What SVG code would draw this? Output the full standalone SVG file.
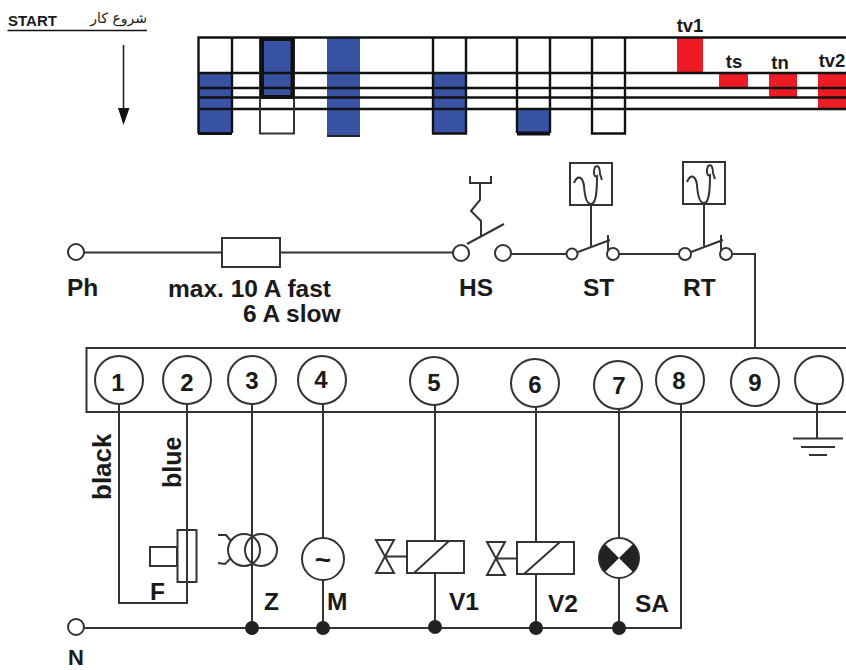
<svg xmlns="http://www.w3.org/2000/svg" width="846" height="670" viewBox="0 0 846 670">
<style>
text{font-family:"Liberation Sans",Arial,sans-serif;font-weight:bold;fill:#1a1a1a}
.l{font-size:24.500px}
.n{font-size:24px;text-anchor:middle}
.w{fill:none;stroke:#333;stroke-width:2}
.s{fill:#fff;stroke:#333;stroke-width:2}
.t{fill:none;stroke:#111;stroke-width:2.400}
.b{fill:#3953a4}
.r{fill:#ed1c24}
.d{fill:#222}
</style>
<rect width="846" height="670" fill="#fff"/>
<g id="header">
<text x="8" y="26" style="font-size:15px">START</text>
<text x="147" y="23" direction="rtl" text-anchor="start" style="font-family:'DejaVu Sans',sans-serif;font-weight:normal;font-size:14px">شروع کار</text>
<path d="M7.500 30.500H147" stroke="#111" stroke-width="1.600"/>
<path d="M123.500 45V110" stroke="#222" stroke-width="1.600"/>
<path d="M118 108H129.500L123.500 125Z" fill="#111"/>
</g>
<g id="timing">
<rect class="b" x="199" y="73" width="33" height="60"/>
<rect class="b" x="264" y="39" width="27" height="58"/>
<rect class="b" x="327" y="38" width="33" height="98"/>
<rect class="b" x="433" y="73" width="33" height="60"/>
<rect class="b" x="517" y="110" width="33" height="24"/>
<rect class="r" x="677" y="38" width="26" height="34"/>
<rect class="r" x="719" y="74" width="29" height="14"/>
<rect class="r" x="769" y="74" width="28" height="23"/>
<rect class="r" x="818" y="74" width="28" height="34"/>
<path class="t" d="M198.500 133.500V37.500H846M198 73H846M198 88H846M198 97.500H846M198 109H846"/>
<path class="t" d="M232 37.500V133M433 37.500V133.500H466V37.500M517 37.500V133M550 37.500V133M592 37.500V133.500H625V37.500"/>
<path d="M198 133.500H232" stroke="#111" stroke-width="3"/>
<path d="M517 133.500H550" stroke="#111" stroke-width="4"/>
<path d="M327 136H360" stroke="#222" stroke-width="2"/>
<path d="M260 37.500V133.500H294V37.500" class="w"/>
<path d="M262 39H292.500V97H262Z" fill="none" stroke="#111" stroke-width="4"/>
<text x="690" y="32" class="n" style="font-size:18.500px">tv1</text>
<text x="734" y="68" class="n" style="font-size:18.500px">ts</text>
<text x="780" y="69" class="n" style="font-size:18.500px">tn</text>
<text x="832" y="67" class="n" style="font-size:18.500px">tv2</text>
</g>
<g id="connectors">
<path class="w" d="M84 252.500H222M280 252.500H453M511 254H566M618 254H679M732 254H755V348"/>
<path class="w" d="M119 404V603H187V404M252 404V628M323 404V538M323 580V628M435 404V541M435 573V628M536 406V542M536 574V628M619 408V538M619 578V628M681 404V628H84M817 404V438"/>
<circle class="d" cx="252" cy="628" r="7"/>
<circle class="d" cx="323" cy="628" r="7"/>
<circle class="d" cx="435" cy="627" r="7"/>
<circle class="d" cx="536" cy="628" r="7"/>
<circle class="d" cx="619" cy="628" r="7"/>
</g>
<g id="Ph"><circle class="s" cx="76" cy="252" r="8"/><text x="67" y="296" class="l">Ph</text></g>
<g id="fuse"><rect class="s" x="222" y="238" width="58" height="29"/>
<text x="168" y="297" class="l">max. 10 A fast</text>
<text x="243" y="322" class="l">6 A slow</text></g>
<g id="HS">
<circle class="s" cx="461" cy="253" r="8"/><circle class="s" cx="503" cy="253" r="8"/>
<path class="w" d="M467 244L504 224M481 237V221L471 211L480 200V183M470 176V183H491V176"/>
<text x="459" y="296" class="l">HS</text>
</g>
<g id="ST">
<rect class="s" x="570" y="163" width="42" height="42"/>
<path class="w" d="M574 183C578 173 583 178 584 186C585 201 588 204 591 204C596 204 597 192 597 176C594 178 593 172 595 167C599 164 600 170 600 174L602 180"/>
<path class="w" d="M591 205V246M578 252L610 240M608 235V250"/>
<circle class="s" cx="572" cy="254" r="5.500"/><circle class="s" cx="613" cy="254" r="6"/>
<text x="583" y="296" class="l">ST</text>
</g>
<g id="RT">
<rect class="s" x="683" y="162" width="42" height="42"/>
<path class="w" d="M687 182C691 172 696 177 697 185C698 200 701 203 704 203C709 203 710 191 710 175C707 177 706 171 708 166C712 163 713 169 713 173L715 179"/>
<path class="w" d="M704 204V246M691 252L723 240M721 235V250"/>
<circle class="s" cx="685" cy="254" r="6"/><circle class="s" cx="726" cy="254" r="6"/>
<text x="683" y="296" class="l">RT</text>
</g>
<g id="strip"><path class="w" d="M846 348H86.500V412H846"/></g>
<g id="t1"><circle class="s" cx="119" cy="380" r="24"/><text x="118" y="391" class="n">1</text></g>
<g id="t2"><circle class="s" cx="187" cy="380" r="24"/><text x="187" y="391" class="n">2</text></g>
<g id="t3"><circle class="s" cx="252" cy="380" r="24"/><text x="252" y="389" class="n">3</text></g>
<g id="t4"><circle class="s" cx="322" cy="380" r="24"/><text x="321" y="388" class="n">4</text></g>
<g id="t5"><circle class="s" cx="434" cy="381" r="24"/><text x="434" y="391" class="n">5</text></g>
<g id="t6"><circle class="s" cx="535" cy="383" r="24"/><text x="535" y="393" class="n">6</text></g>
<g id="t7"><circle class="s" cx="618" cy="385" r="24"/><text x="619" y="394" class="n">7</text></g>
<g id="t8"><circle class="s" cx="680" cy="380" r="24"/><text x="679" y="389" class="n">8</text></g>
<g id="t9"><circle class="s" cx="755" cy="382" r="24"/><text x="755" y="391" class="n">9</text></g>
<g id="earth"><circle class="s" cx="819" cy="380" r="24"/>
<path class="w" d="M793 438.500H843M801 447H835M809 455H827"/></g>
<g id="wirelabels">
<text transform="translate(111 500) rotate(-90)" style="font-size:26px">black</text>
<text transform="translate(181 488) rotate(-90)" style="font-size:25px">blue</text>
</g>
<g id="F">
<rect class="w" x="177.500" y="530" width="19" height="52"/>
<rect class="w" x="150" y="547" width="27" height="19"/>
<text x="150" y="600" class="l">F</text>
</g>
<g id="Z">
<circle class="w" cx="244" cy="550" r="16"/><circle class="w" cx="261" cy="550" r="16"/>
<path class="w" d="M218 535H226L231 541M218 563L225 564L231 558"/>
<text x="264" y="610" class="l">Z</text>
</g>
<g id="M">
<circle class="s" cx="323" cy="559" r="21"/>
<text x="323" y="569" class="n" style="font-size:28px">~</text>
<text x="327" y="610" class="l">M</text>
</g>
<g id="V1">
<rect class="s" x="407" y="541" width="57" height="32"/>
<path class="w" d="M414 573L449 541M376 540H394L376 573H394ZM385 556.500H407"/>
<text x="449" y="610" class="l">V1</text>
</g>
<g id="V2">
<rect class="s" x="517" y="542" width="57" height="32"/>
<path class="w" d="M524 574L560 542M487 542H505L487 575H505ZM496 558.500H517"/>
<text x="548" y="612" class="l">V2</text>
</g>
<g id="SA">
<circle class="s" cx="619" cy="558" r="20"/>
<path d="M605 544L619 558L605 572A20 20 0 0 1 605 544ZM633 544A20 20 0 0 1 633 572L619 558Z" fill="#222"/>
<text x="635" y="612" class="l">SA</text>
</g>
<g id="N"><circle class="s" cx="76" cy="627" r="8"/><text x="68" y="665" style="font-size:22px">N</text></g>
</svg>
